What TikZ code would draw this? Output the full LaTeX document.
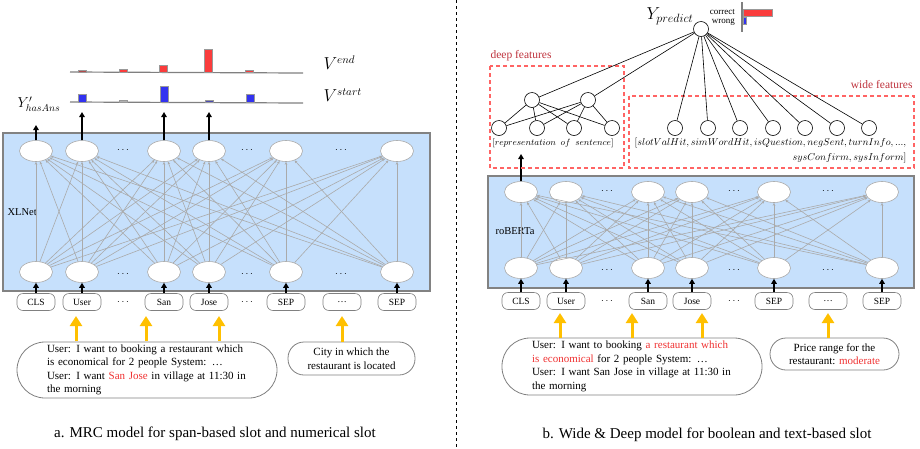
\documentclass[tikz,border=0pt]{standalone}
\usepackage{fontspec}
\setmainfont{Liberation Serif}
\usetikzlibrary{arrows.meta,shapes.geometric}
\definecolor{boxblue}{RGB}{198,224,252}
\definecolor{boxborder}{RGB}{130,130,130}
\definecolor{edgegray}{RGB}{170,170,170}
\definecolor{gold}{RGB}{255,192,0}
\definecolor{redtxt}{RGB}{240,50,50}
\definecolor{darkred}{RGB}{190,50,60}
\definecolor{dashred}{RGB}{255,100,100}
\definecolor{barred}{RGB}{250,60,60}
\definecolor{barblue}{RGB}{50,50,240}
\tikzset{
  neuron/.style={ellipse, draw=edgegray, fill=white, minimum width=33pt, minimum height=21pt, inner sep=0pt, line width=0.6pt},
  token/.style={rounded corners=6pt, draw=gray, fill=white, minimum width=38pt, minimum height=17pt, inner sep=0pt, line width=0.6pt, font=\fontsize{9.5}{10}\selectfont},
  conn/.style={draw=edgegray, line width=0.6pt, -{Stealth[length=3pt,width=2.5pt]}},
  blackarrow/.style={line width=2pt, -{Triangle[length=5pt,width=5.5pt]}},
  goldarrow/.style={draw=gold, line width=3pt, -{Triangle[length=10pt,width=12pt]}},
  circ/.style={circle, draw=black, fill=white, minimum size=15pt, inner sep=0pt, line width=0.6pt},
  ffline/.style={line width=0.6pt},
  netbox/.style={draw=boxborder, fill=boxblue, line width=1.5pt},
  dotsnode/.style={inner sep=0pt, font=\fontsize{10}{10}\selectfont},
  bubble/.style={draw=gray, line width=0.8pt, fill=white, inner sep=0pt, font=\fontsize{11}{13.5}\selectfont},
  featbox/.style={draw=dashred, line width=1.2pt, dash pattern=on 4pt off 3pt},
  baseline/.style={draw=gray, line width=1.2pt},
  bar/.style={draw=gray!80, line width=0.5pt},
  featlab/.style={text=darkred, font=\fontsize{11.5}{12}\selectfont},
  caption/.style={font=\fontsize{15}{15}\selectfont},
}
\begin{document}
\begin{tikzpicture}[x=1pt,y=-1pt]
\useasboundingbox (0,0) rectangle (920,448);
% divider
\draw[dashed, line width=0.8pt] (456,0) -- (456,448);

% ================= LEFT PANEL =================
\draw[netbox] (3,133) rectangle (430,291);
\node[anchor=west, font=\fontsize{10.5}{10}\selectfont] (xlnet) at (4,212) {XLNet};
\foreach \x [count=\i] in {36,82,164,209,286,397} {
  \node[neuron] (lt\i) at (\x,151) {};
  \node[neuron] (lb\i) at (\x,272) {};
}
\foreach \i in {1,...,6} \foreach \j in {1,...,6} \draw[conn] (lb\i) -- (lt\j);
\foreach \x [count=\i] in {123,247,341} {
  \node[dotsnode] (ltd\i) at (\x,150) {$\cdots$};
  \node[dotsnode] (lbd\i) at (\x,274) {$\cdots$};
}
% tokens
\node[token] (ltk1) at (36,302) {CLS};
\node[token] (ltk2) at (82,302) {User};
\node[dotsnode] (ltkd1) at (123,302) {$\cdots$};
\node[token] (ltk3) at (164,302) {San};
\node[token] (ltk4) at (209,302) {Jose};
\node[dotsnode] (ltkd2) at (247,302) {$\cdots$};
\node[token] (ltk5) at (286,302) {SEP};
\node[token] (ltk7) at (342,302) {…};
\node[token] (ltk6) at (397,302) {SEP};
\foreach \i in {1,...,6} \draw[blackarrow] (ltk\i.north) -- (lb\i.south);
% outputs
\coordinate (lo1) at (36,125);
\coordinate (lo2) at (82,112);
\coordinate (lo3) at (164,112);
\coordinate (lo4) at (209,112);
\draw[blackarrow] (lt1.north) -- (lo1);
\draw[blackarrow] (lt2.north) -- (lo2);
\draw[blackarrow] (lt3.north) -- (lo3);
\draw[blackarrow] (lt4.north) -- (lo4);
\node[font=\fontsize{14}{14}\selectfont] (yhas) at (39,104) {$Y'_{hasAns}$};
% charts
\draw[baseline] (70,102) -- (303,103);
\draw[baseline] (70,72) -- (303,73);
\draw[bar, fill=barblue] (78,94) rectangle (86,102);
\draw[bar, fill=gray!60] (119,100) rectangle (127,102);
\draw[bar, fill=barblue] (160,86) rectangle (168,102);
\draw[bar, fill=gray!60!blue] (205,100) rectangle (213,102.5);
\draw[bar, fill=barblue] (246,94) rectangle (254,102.5);
\draw[bar, fill=gray!60!red] (78,70.5) rectangle (86,72);
\draw[bar, fill=barred] (119,69) rectangle (127,72);
\draw[bar, fill=barred] (159,65) rectangle (167,72);
\draw[bar, fill=barred] (204,49) rectangle (212,72.5);
\draw[bar, fill=barred] (245,70) rectangle (253,72.5);
\node[anchor=west, font=\fontsize{16}{16}\selectfont] (vend) at (320,63) {$V^{end}$};
\node[anchor=west, font=\fontsize{16}{16}\selectfont] (vstart) at (320,95) {$V^{start}$};
% bubbles
\node[bubble, rounded corners=28pt, minimum width=260pt, minimum height=56pt, text width=200pt, align=left] (lq) at (147,370)
 {User: I want to booking a restaurant which\\is economical for 2 people System: …\\User: I want \textcolor{redtxt}{San Jose} in village at 11:30 in\\the morning};
\node[bubble, rounded corners=16pt, minimum width=127pt, minimum height=33pt, align=center] (lc) at (351.5,358.5)
 {City in which the\\restaurant is located};
\coordinate (ya1s) at (76,341); \coordinate (ya1e) at (76,316);
\coordinate (ya2s) at (146,341); \coordinate (ya2e) at (146,316);
\coordinate (ya3s) at (219,341); \coordinate (ya3e) at (219,316);
\coordinate (ya4s) at (342,342); \coordinate (ya4e) at (342,316);
\foreach \i in {1,...,4} \draw[goldarrow] (ya\i s) -- (ya\i e);
\node[caption] (capa) at (215,434) {a. MRC model for span-based slot and numerical slot};

% ================= RIGHT PANEL =================
\draw[netbox] (488,176) rectangle (914,288);
\node[anchor=west, font=\fontsize{10.5}{10}\selectfont] (roberta) at (492,231) {roBERTa};
\foreach \x [count=\i] in {521,566,648,692,774,882} {
  \node[neuron] (rt\i) at (\x,192) {};
  \node[neuron] (rb\i) at (\x,268) {};
}
\foreach \i in {1,...,6} \foreach \j in {1,...,6} \draw[conn] (rb\i) -- (rt\j);
\foreach \x [count=\i] in {607,734,828} {
  \node[dotsnode] (rtd\i) at (\x,191) {$\cdots$};
  \node[dotsnode] (rbd\i) at (\x,270) {$\cdots$};
}
\node[token] (rtk1) at (521,301) {CLS};
\node[token] (rtk2) at (566,301) {User};
\node[dotsnode] (rtkd1) at (607,301) {$\cdots$};
\node[token] (rtk3) at (648,301) {San};
\node[token] (rtk4) at (692,301) {Jose};
\node[dotsnode] (rtkd2) at (734,301) {$\cdots$};
\node[token] (rtk5) at (774,301) {SEP};
\node[token] (rtk7) at (828,301) {…};
\node[token] (rtk6) at (882,301) {SEP};
\foreach \i in {1,...,6} \draw[blackarrow] (rtk\i.north) -- (rb\i.south);
\coordinate (ro1) at (521,154);
\draw[blackarrow] (rt1.north) -- (ro1);
% feature boxes
\draw[featbox] (490,66) rectangle (624,168);
\draw[featbox] (629,96) rectangle (914,168);
\node[anchor=west, featlab] (deeplab) at (487,56) {deep features};
\node[anchor=east, featlab] (widelab) at (916,85) {wide features};
% Y predict
\node[circ] (yp) at (701,29) {};
\node[font=\fontsize{18}{18}\selectfont] (yplab) at (670,16) {$Y_{predict}$};
\node[anchor=east, font=\fontsize{9}{9}\selectfont, inner sep=0pt] (corr) at (735,12.5) {correct};
\node[anchor=east, font=\fontsize{9}{9}\selectfont, inner sep=0pt] (wrong) at (735,22.5) {wrong};
\draw[bar, fill=barred] (743,9) rectangle (772,16);
\draw[bar, fill=barblue] (743,17.5) rectangle (746,24);
\draw[draw=gray, line width=1.5pt] (742,2) -- (742,32);
% deep net
\node[circ] (d1) at (532,100) {};
\node[circ] (d2) at (588,100) {};
\foreach \x [count=\i] in {499,537,574,612} \node[circ] (e\i) at (\x,128) {};
\foreach \i in {1,...,4} { \draw[ffline] (e\i) -- (d1); \draw[ffline] (e\i) -- (d2); }
\draw[ffline] (d1) -- (yp);
\draw[ffline] (d2) -- (yp);
% wide
\foreach \x [count=\i] in {675,708,740,773,805,837,869} {
  \node[circ] (w\i) at (\x,128) {};
  \draw[ffline] (w\i) -- (yp);
}
\node[font=\fontsize{9.5}{9.5}\selectfont] (repr) at (553,143) {$[representation\ \ of\ \ sentence]$};
\node[anchor=east, font=\fontsize{9.6}{9.6}\selectfont] (wf1) at (910,143) {$[slotValHit, simWordHit, isQuestion, negSent, turnInfo, ...,$};
\node[anchor=east, font=\fontsize{9.6}{9.6}\selectfont] (wf2) at (910,158) {$sysConfirm, sysInform]$};
% bubbles
\node[bubble, rounded corners=28pt, minimum width=260pt, minimum height=57pt, text width=200pt, align=left] (rq) at (632,366.5)
 {User: I want to booking \textcolor{redtxt}{a restaurant which}\\\textcolor{redtxt}{is economical} for 2 people System: …\\User: I want San Jose in village at 11:30 in\\the morning};
\node[bubble, rounded corners=16pt, minimum width=129pt, minimum height=32pt, align=center] (rc) at (834.5,354)
 {Price range for the\\restaurant: \textcolor{redtxt}{moderate}};
\coordinate (yb1s) at (560,338); \coordinate (yb1e) at (560,313);
\coordinate (yb2s) at (632,338); \coordinate (yb2e) at (632,313);
\coordinate (yb3s) at (702,338); \coordinate (yb3e) at (702,313);
\coordinate (yb4s) at (828,338); \coordinate (yb4e) at (828,313);
\foreach \i in {1,...,4} \draw[goldarrow] (yb\i s) -- (yb\i e);
\node[caption] (capb) at (707,435) {b. Wide \& Deep model for boolean and text-based slot};
\end{tikzpicture}
\end{document}
